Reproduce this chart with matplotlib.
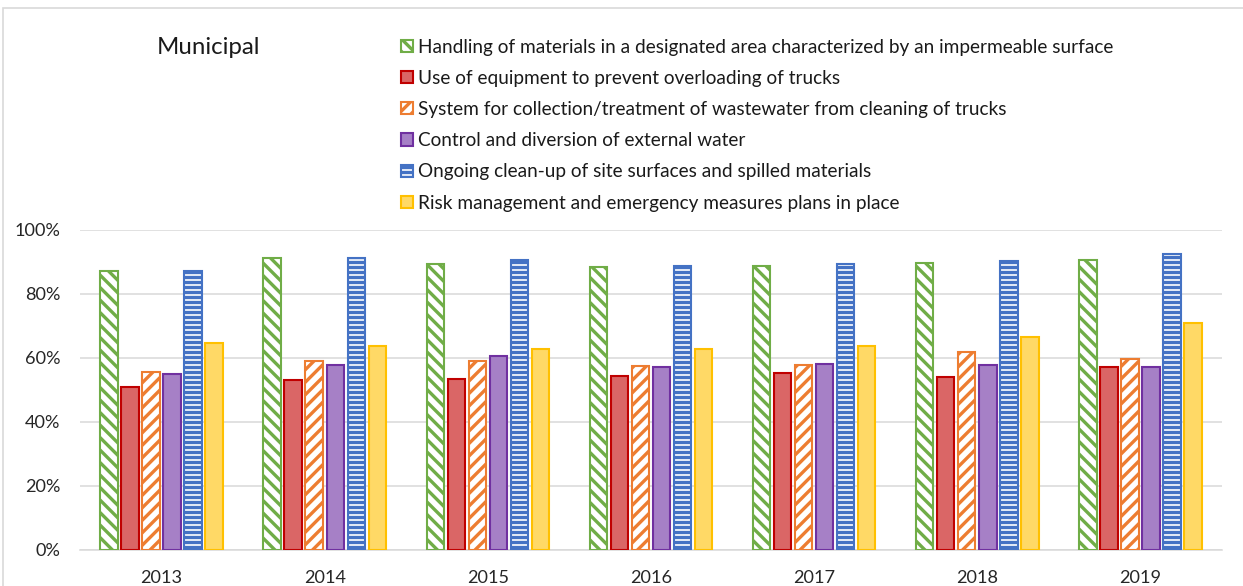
import matplotlib
matplotlib.use("Agg")
import matplotlib.pyplot as plt
import numpy as np
from matplotlib.patches import Rectangle

# Survey years
years = ["2013", "2014", "2015", "2016", "2017", "2018", "2019"]

# Share of municipal sites applying each practice (%)
handling_impermeable = [87.2, 91.1, 89.4, 88.5, 88.9, 89.6, 90.7]
overload_equipment = [51.0, 53.2, 53.5, 54.3, 55.4, 54.1, 57.2]
wastewater_system = [55.7, 59.1, 59.1, 57.6, 57.7, 61.9, 59.7]
external_water = [54.9, 57.9, 60.7, 57.1, 58.0, 57.9, 57.2]
cleanup_surfaces = [87.2, 91.1, 90.5, 88.6, 89.5, 90.2, 92.4]
risk_plans = [64.6, 63.8, 62.9, 62.7, 63.8, 66.6, 71.0]

series_labels = [
    "Handling of materials in a designated area characterized by an impermeable surface",
    "Use of equipment to prevent overloading of trucks",
    "System for collection/treatment of wastewater from cleaning of trucks",
    "Control and diversion of external water",
    "Ongoing clean-up of site surfaces and spilled materials",
    "Risk management and emergency measures plans in place",
]
series_values = [handling_impermeable, overload_equipment, wastewater_system,
                 external_water, cleanup_surfaces, risk_plans]

# (face, edge, hatch)
styles = [
    ("white", "#70AD47", "\\\\\\\\"),
    ("#DA6666", "#C00000", None),
    ("white", "#ED7D31", "////"),
    ("#A680C6", "#7030A0", None),
    ("white", "#4472C4", "-----"),
    ("#FFD966", "#FFC000", None),
]

plt.rcParams["font.family"] = ["Lato", "DejaVu Sans"]
plt.rcParams["hatch.linewidth"] = 1.6

W, H, DPI = 1243, 586, 150
fig = plt.figure(figsize=(W / DPI, H / DPI), dpi=DPI)
ax = fig.add_axes([80 / W, 1 - 550 / H, (1222 - 80) / W, (550 - 230) / H])

x = np.arange(len(years))
pitch = 0.129
width = 0.107
for k, (vals, lab, (fc, ec, hatch)) in enumerate(zip(series_values, series_labels, styles)):
    offs = (k - 2.5) * pitch
    bars = ax.bar(x + offs, np.array(vals) / 100.0, width, label=lab,
                  facecolor=fc, edgecolor=ec, hatch=hatch, linewidth=1.0, zorder=3)
    for p in bars:
        if hasattr(p, "set_hatch_linewidth"):
            p.set_hatch_linewidth(1.6)

ax.set_xlim(-0.5, len(years) - 0.5)
ax.set_ylim(0, 1.0)
ax.set_yticks(np.arange(0, 1.01, 0.2))
ax.set_yticklabels([f"{int(round(v * 100))}%" for v in np.arange(0, 1.01, 0.2)])
ax.set_xticks(x)
ax.set_xticklabels(years)
ax.tick_params(axis="both", length=0, labelsize=8.7, colors="#262626")
ax.tick_params(axis="y", pad=9.5)
ax.tick_params(axis="x", pad=9.5)
ax.grid(axis="y", color="#D9D9D9", linewidth=0.75, zorder=0)
ax.set_axisbelow(True)
for s in ["top", "right", "left"]:
    ax.spines[s].set_visible(False)
ax.spines["bottom"].set_color("#D9D9D9")
ax.spines["bottom"].set_linewidth(0.75)

fig.text(157 / W, 1 - 47 / H, "Municipal", fontsize=11.5, color="#1a1a1a",
         ha="left", va="center")

leg = fig.legend(loc="upper left", bbox_to_anchor=(401 / W, 1 - 38.5 / H),
                 frameon=False, fontsize=9.1, borderpad=0, borderaxespad=0,
                 handlelength=0.63, handleheight=0.63, handletextpad=0.28,
                 labelspacing=0.75)
for t in leg.get_texts():
    t.set_color("#1a1a1a")

# chart frame
fig.add_artist(Rectangle((3 / W, -0.1), 1.2, 1 - 8 / H + 0.1,
                         transform=fig.transFigure, fill=False,
                         edgecolor="#D9D9D9", linewidth=0.8))

fig.savefig("out.png", dpi=DPI, facecolor="white")
